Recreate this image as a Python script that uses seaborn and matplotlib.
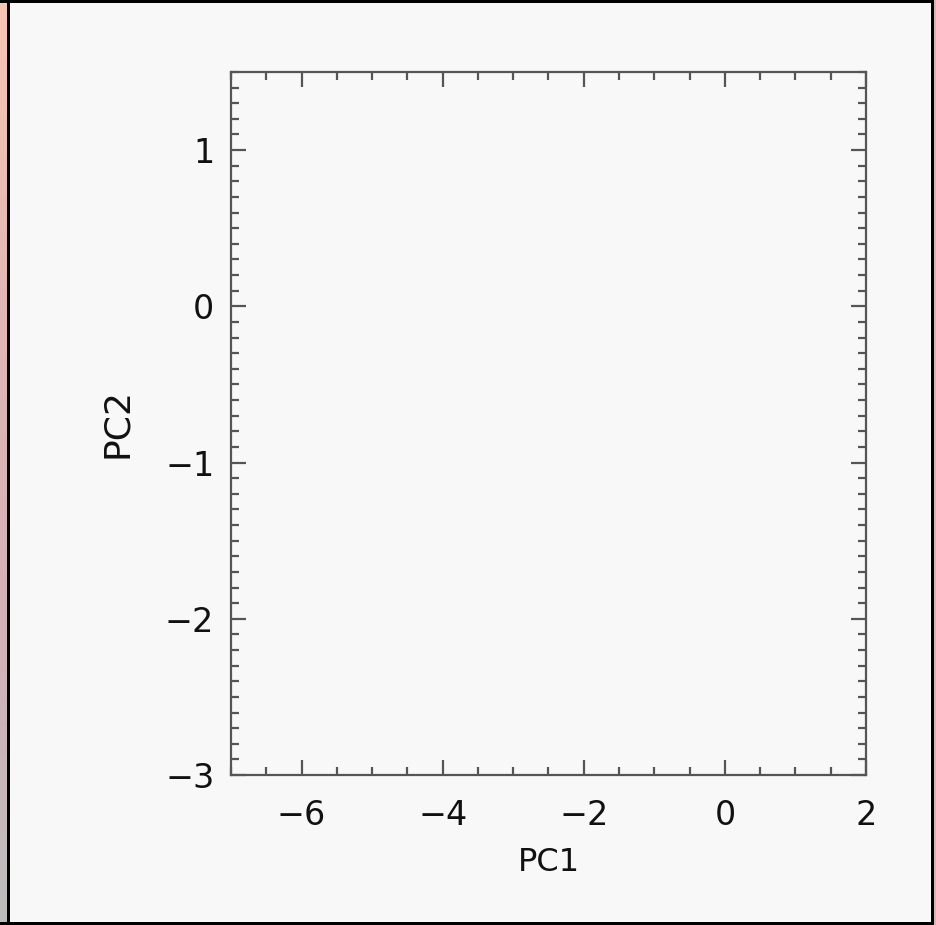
import numpy as np
import pandas as pd
import matplotlib
matplotlib.use("Agg")
import matplotlib.pyplot as plt
from matplotlib.ticker import MultipleLocator, FixedLocator
from matplotlib.patches import Rectangle
from matplotlib.colors import LinearSegmentedColormap
import seaborn as sns

# Principal component scores (no samples plotted)
pc1 = []
pc2 = []
x_ticks = [-6, -4, -2, 0, 2]
y_ticks = [-3, -2, -1, 0, 1]
x_limits = [-7, 2]
y_limits = [-3, 1.5]

sns.set_theme(style="ticks")
plt.rcParams["font.family"] = ["DejaVu Sans"]

W, H = 936, 925
bg = "#f8f8f8"
axis_col = "#555555"

fig = plt.figure(figsize=(W / 100, H / 100), dpi=100, facecolor=bg)

# Window-edge strip on the left, fading from salmon to grey
strip = fig.add_axes([0, 0, 8 / W, 1])
cmap = LinearSegmentedColormap.from_list("edge", ["#f8c6b4", "#e2b6b4", "#d4b1b8", "#bdbcbc"])
strip.imshow(np.linspace(0, 1, 256)[:, None], aspect="auto", cmap=cmap, extent=[0, 1, 0, 1], origin="upper")
strip.set_axis_off()

# Black window frame
fw = 3
fig.add_artist(Rectangle((0, 1 - fw / H), 1, fw / H, transform=fig.transFigure, color="black", lw=0))
fig.add_artist(Rectangle((0, 0), 1, fw / H, transform=fig.transFigure, color="black", lw=0))
fig.add_artist(Rectangle((7 / W, 0), fw / W, 1, transform=fig.transFigure, color="black", lw=0))
fig.add_artist(Rectangle((931 / W, 0), fw / W, 1, transform=fig.transFigure, color="black", lw=0))
fig.add_artist(Rectangle((934 / W, 0), 2 / W, 1, transform=fig.transFigure, color="#d9b4b4", lw=0))

ax = fig.add_axes([231 / W, (H - 775) / H, (866 - 231) / W, (775 - 72) / H])
ax.set_facecolor(bg)

df = pd.DataFrame({"PC1": pd.Series(pc1, dtype=float), "PC2": pd.Series(pc2, dtype=float)})
sns.scatterplot(data=df, x="PC1", y="PC2", ax=ax, color="black")

ax.set_xlim(*x_limits)
ax.set_ylim(*y_limits)
ax.xaxis.set_major_locator(FixedLocator(x_ticks))
ax.yaxis.set_major_locator(FixedLocator(y_ticks))
ax.xaxis.set_minor_locator(MultipleLocator(0.5))
ax.yaxis.set_minor_locator(MultipleLocator(0.1))

for s in ax.spines.values():
    s.set_visible(True)
    s.set_color(axis_col)
    s.set_linewidth(1.6)

ax.tick_params(which="both", direction="in", top=True, right=True, color=axis_col, width=1.6)
ax.tick_params(which="major", length=11)
ax.tick_params(which="minor", length=5.5)
ax.tick_params(axis="x", which="major", labelsize=24, pad=17, labelcolor="#111111")
ax.tick_params(axis="y", which="major", labelsize=24, pad=12, labelcolor="#111111")

ax.set_xlabel("PC1", fontsize=23, labelpad=11, color="#111111")
ax.set_ylabel("PC2", fontsize=26, labelpad=22, color="#111111")

fig.savefig("out.png", dpi=100, facecolor=bg)
